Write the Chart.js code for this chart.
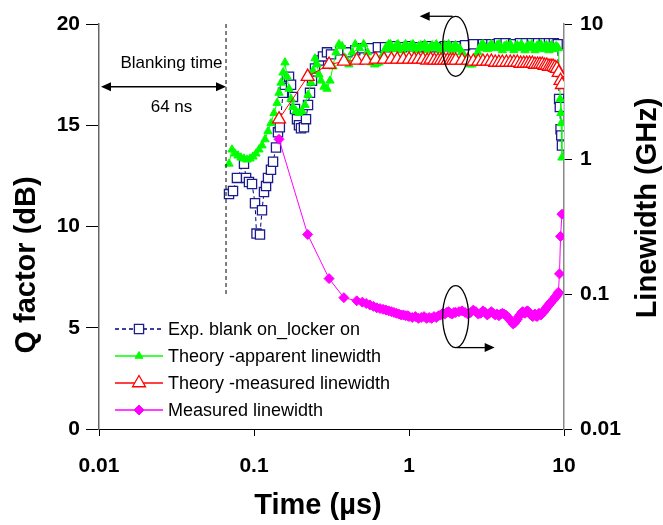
<!DOCTYPE html>
<html>
<head>
<meta charset="utf-8">
<script src="https://cdn.jsdelivr.net/npm/chart.js@4.4.0/dist/chart.umd.min.js"></script>
<style>
  html, body { margin: 0; padding: 0; background: #fff; }
</style>
</head>
<body>
<canvas id="qChart" width="663" height="525"></canvas>
<script>
// --- data ---
const timeTicks = [0.01, 0.1, 1, 10];
const qTicks = [0, 5, 10, 15, 20];
const lwTicks = [0.01, 0.1, 1, 10];

// Exp. blank on_locker on (Q factor, dB)
const expTime = [0.0690, 0.0732, 0.0776, 0.0862, 0.0889, 0.0928, 0.0971, 0.1015, 0.1038, 0.1093,
  0.1126, 0.1160, 0.1196, 0.1231, 0.1287, 0.1327, 0.1387, 0.1428, 0.1468, 0.1539,
  0.1585, 0.1633, 0.1682, 0.1733, 0.1785, 0.1839, 0.1894, 0.1951, 0.2010, 0.2100,
  0.2165, 0.2231, 0.2298, 0.2367, 0.2475, 0.2626, 0.2787, 0.2958, 0.3140,
  0.36, 0.40, 0.45, 0.50, 0.56, 0.63, 0.70, 0.80, 0.90, 1.0,
  1.15, 1.3, 1.5, 1.7, 2.0, 2.3, 2.6, 3.0, 3.4, 3.8,
  4.2, 4.7, 5.2, 5.7, 6.2, 6.8, 7.4, 8.0, 8.6, 9.1,
  9.3, 9.4, 9.5, 9.6, 9.7];
const expQ = [11.6, 11.75, 12.4, 13.1, 12.4, 12.2, 12.1, 11.15, 9.65, 9.6,
  10.8, 11.7, 12.0, 12.4, 12.8, 13.2, 13.9, 14.65, 14.9, 16.6,
  17.0, 17.3, 17.4, 17.0, 16.4, 15.8, 15.3, 15.0, 14.85, 14.9,
  15.3, 16.0, 16.6, 17.2, 17.8, 18.2, 18.4, 18.6, 18.5,
  18.7, 18.6, 18.7, 18.8, 18.8, 18.85, 18.85, 18.9, 18.85, 18.9,
  18.85, 18.9, 18.85, 18.9, 18.9, 18.95, 19.0, 19.0, 19.0, 19.05,
  19.05, 19.0, 19.05, 19.05, 19.05, 19.05, 19.05, 19.05, 19.05, 19.0,
  16.3, 15.9, 14.8, 14.5, 14.0];

// Theory - apparent linewidth (Q factor, dB)
const appTime = [0.0690, 0.0721, 0.0754, 0.0788, 0.0824, 0.0862, 0.0901, 0.0942, 0.0985, 0.1030,
  0.1077, 0.1126, 0.1178, 0.1231, 0.1287, 0.1346, 0.1408, 0.1450, 0.1494, 0.1539,
  0.1585, 0.1633, 0.1682, 0.1733, 0.1785, 0.1866, 0.1951, 0.2040, 0.2133, 0.2231,
  0.2332, 0.2403, 0.2475, 0.2550, 0.2626, 0.2706, 0.2829, 0.2958, 0.3093, 0.3234,
  0.3381, 0.3535,
  0.37, 0.39, 0.41, 0.43, 0.45, 0.48, 0.51, 0.54, 0.57, 0.6,
  0.62, 0.64, 0.66, 0.68, 0.70, 0.72, 0.74, 0.76, 0.78, 0.8,
  0.83, 0.85, 0.88, 0.9, 0.93, 0.95, 0.98, 1.0, 1.03, 1.06,
  1.09, 1.12, 1.15, 1.19, 1.22, 1.26, 1.3, 1.33, 1.37, 1.41,
  1.45, 1.5, 1.55, 1.6, 1.65, 1.7, 1.75, 1.8, 1.85, 1.9,
  1.95, 2.0, 2.06, 2.12, 2.18, 2.25, 2.32, 2.4, 2.48, 2.55,
  2.62, 2.7, 2.78, 2.85, 2.92, 3.0, 3.1, 3.2, 3.3, 3.4,
  3.5, 3.6, 3.7, 3.8, 3.9, 4.0, 4.12, 4.25, 4.38, 4.5,
  4.62, 4.75, 4.88, 5.0, 5.15, 5.3, 5.45, 5.6, 5.75, 5.9,
  6.05, 6.2, 6.35, 6.5, 6.65, 6.8, 6.95, 7.1, 7.25, 7.4,
  7.55, 7.7, 7.85, 8.0, 8.15, 8.3, 8.45, 8.6, 8.75, 8.9,
  9.05, 9.2, 9.35, 9.45, 9.55, 9.6, 9.7];
const appQ = [13.1, 13.8, 13.6, 13.5, 13.4, 13.35, 13.3, 13.35, 13.45, 13.6,
  13.8, 14.0, 14.3, 14.7, 15.1, 15.6, 16.1, 16.6, 17.1, 17.6,
  18.1, 17.4, 16.8, 16.3, 15.9, 15.7, 15.6, 15.7, 16.0, 16.5,
  17.1, 17.7, 18.3, 18.0, 17.5, 17.2, 16.9, 16.8, 17.2, 17.9,
  18.6, 19.0,
  18.9, 18.3, 18.0, 18.6, 19.0, 18.8, 19.0, 18.6, 18.1, 18.0,
  18.05, 18.1, 18.3, 18.5, 18.75, 18.9, 19.0, 19.0, 18.8, 18.75,
  18.95, 19.0, 18.8, 18.7, 18.9, 19.0, 18.85, 18.8, 18.95, 19.0,
  18.8, 18.7, 18.9, 18.95, 18.8, 19.0, 18.9, 18.7, 18.85, 18.95,
  18.8, 19.0, 18.85, 18.7, 18.9, 18.95, 18.8, 19.0, 18.85, 18.7,
  18.9, 18.95, 18.8, 18.8, 18.6, 18.5, 18.3, 18.1, 18.0, 18.0,
  18.2, 18.4, 18.6, 18.8, 18.95, 19.0, 18.85, 18.75, 18.9, 19.0,
  18.85, 18.8, 18.95, 19.0, 18.85, 18.7, 18.9, 18.95, 18.8, 19.0,
  18.85, 18.7, 18.9, 18.95, 18.8, 19.0, 18.85, 18.7, 18.9, 18.95,
  18.8, 19.0, 18.85, 18.7, 18.9, 18.95, 18.8, 19.0, 18.85, 18.75,
  18.9, 18.95, 18.8, 18.7, 18.9, 18.95, 18.8, 18.75, 18.85, 18.9,
  18.85, 18.8, 17.5, 16.3, 15.6, 15.1, 13.4];

// Theory - measured linewidth (Q factor, dB)
const measTime = [0.145, 0.222, 0.305, 0.38, 0.46, 0.53, 0.61, 0.69, 0.77, 0.84,
  0.92, 1.0, 1.08, 1.15, 1.23, 1.31, 1.38, 1.46, 1.54, 1.61,
  1.69, 1.77, 1.85, 1.92, 2.0, 2.2, 2.4, 2.6, 2.8, 3.0,
  3.2, 3.4, 3.6, 3.8, 4.0, 4.25, 4.5, 4.75, 5.0, 5.25,
  5.5, 5.75, 6.0, 6.25, 6.5, 6.75, 7.0, 7.25, 7.5, 7.75,
  8.0, 8.25, 8.5, 8.75, 9.0, 9.25, 9.5, 9.7];
const measQ = [15.3, 17.4, 18.0, 18.15, 18.2, 18.2, 18.25, 18.25, 18.25, 18.25,
  18.25, 18.25, 18.25, 18.25, 18.25, 18.2, 18.25, 18.2, 18.2, 18.2,
  18.2, 18.2, 18.2, 18.2, 18.2, 18.2, 18.2, 18.15, 18.15, 18.15,
  18.15, 18.15, 18.1, 18.1, 18.1, 18.1, 18.1, 18.1, 18.1, 18.05,
  18.05, 18.05, 18.05, 18.05, 18.0, 18.0, 18.0, 18.0, 17.95, 17.95,
  17.9, 17.9, 17.9, 17.85, 17.8, 17.6, 17.2, 17.0];

// Measured linewidth (GHz, right axis)
const lwTime = [0.145, 0.222, 0.305, 0.38, 0.46,
  0.50, 0.53, 0.56, 0.59, 0.62, 0.65, 0.68, 0.71, 0.74, 0.77,
  0.80, 0.83, 0.86, 0.89, 0.92, 0.95, 0.98,
  1.0, 1.05, 1.1, 1.15, 1.2, 1.25, 1.3, 1.35, 1.4, 1.45,
  1.5, 1.55, 1.6, 1.65, 1.7, 1.75, 1.8, 1.85, 1.9, 1.95,
  2.0, 2.1, 2.2, 2.3, 2.4, 2.5, 2.6, 2.7, 2.8, 2.9,
  3.0, 3.1, 3.2, 3.3, 3.4, 3.5, 3.6, 3.7, 3.8, 3.9,
  4.0, 4.1, 4.2, 4.3, 4.4, 4.5, 4.6, 4.7, 4.8, 4.9,
  5.0, 5.1, 5.2, 5.3, 5.4, 5.5, 5.6, 5.7, 5.8, 5.9,
  6.0, 6.1, 6.2, 6.3, 6.4, 6.5, 6.6, 6.7, 6.8, 6.9,
  7.0, 7.1, 7.2, 7.3, 7.4, 7.5, 7.6, 7.7, 7.8, 7.9,
  8.0, 8.1, 8.2, 8.3, 8.4, 8.5, 8.6, 8.7, 8.8, 8.9,
  9.0, 9.1, 9.2, 9.35, 9.5, 9.7];
const lwGHz = [1.40, 0.276, 0.130, 0.094, 0.089,
  0.087, 0.085, 0.083, 0.081, 0.079, 0.078, 0.077, 0.076, 0.075, 0.074,
  0.073, 0.072, 0.071, 0.070, 0.070, 0.069, 0.069,
  0.068, 0.067, 0.068, 0.066, 0.067, 0.068, 0.066, 0.067, 0.066, 0.068,
  0.067, 0.069, 0.070, 0.072, 0.071, 0.073, 0.074, 0.072, 0.071, 0.073,
  0.073, 0.074, 0.075, 0.073, 0.071, 0.073, 0.076, 0.074, 0.071, 0.072,
  0.075, 0.073, 0.070, 0.072, 0.074, 0.072, 0.070, 0.071, 0.069, 0.071,
  0.072, 0.071, 0.070, 0.068, 0.066, 0.064, 0.062, 0.060, 0.061, 0.063,
  0.065, 0.068, 0.070, 0.072, 0.074, 0.073, 0.072, 0.074, 0.075, 0.074,
  0.072, 0.070, 0.069, 0.068, 0.070, 0.071, 0.069, 0.068, 0.070, 0.072,
  0.071, 0.070, 0.072, 0.073, 0.074, 0.076, 0.077, 0.079, 0.080, 0.082,
  0.083, 0.085, 0.086, 0.088, 0.089, 0.090, 0.092, 0.093, 0.095, 0.096,
  0.098, 0.100, 0.103, 0.141, 0.267, 0.39];

const seriesNames = ['Exp. blank on_locker on', 'Theory -apparent linewidth',
  'Theory -measured linewidth', 'Measured linewidth'];

// annotation anchors (data units)
const blankingStart = 0.0103;
const blankingEnd = 0.066;
const blankingLineLow = 6.6;
const blankingArrowQ = 16.9;
const ellipseTime = 2.0;
const ellipseQ = 18.9;
const ellipseGHz = 0.068;

const FONT = "'Liberation Sans', Arial, sans-serif";
const tickFont = { family: FONT, size: 21, weight: 'bold' };

function pts(xs, ys) {
  return xs.map((t, i) => ({ x: t, y: ys[i] }));
}

function arrowHead(ctx, x, y, dir) {
  ctx.beginPath();
  ctx.moveTo(x, y);
  ctx.lineTo(x - dir * 10, y - 4.5);
  ctx.lineTo(x - dir * 10, y + 4.5);
  ctx.closePath();
  ctx.fill();
}

const overlay = {
  id: 'overlay',
  afterDatasetsDraw(chart) {
    const { ctx, scales } = chart;
    const x = scales.x, y = scales.y, y2 = scales.y2;
    ctx.save();
    ctx.strokeStyle = '#000';
    ctx.fillStyle = '#000';

    // blanking time marker
    const bx = x.getPixelForValue(blankingEnd);
    ctx.lineWidth = 1;
    ctx.setLineDash([4, 3]);
    ctx.beginPath();
    ctx.moveTo(bx, y.getPixelForValue(20));
    ctx.lineTo(bx, y.getPixelForValue(blankingLineLow));
    ctx.stroke();
    ctx.setLineDash([]);
    const ax0 = x.getPixelForValue(blankingStart);
    const ay = y.getPixelForValue(blankingArrowQ);
    ctx.lineWidth = 1.5;
    ctx.beginPath();
    ctx.moveTo(ax0 + 4, ay);
    ctx.lineTo(bx - 4, ay);
    ctx.stroke();
    arrowHead(ctx, ax0, ay, -1);
    arrowHead(ctx, bx, ay, 1);
    ctx.font = '17px ' + FONT;
    ctx.textAlign = 'center';
    ctx.textBaseline = 'middle';
    const tx = (ax0 + bx) / 2 + 8;
    ctx.fillText('Blanking time', tx, ay - 23);
    ctx.fillText('64 ns', tx, ay + 21);

    // ellipse for left axis series
    const ex = x.getPixelForValue(ellipseTime);
    const ey1 = y.getPixelForValue(ellipseQ);
    ctx.lineWidth = 1.3;
    ctx.beginPath();
    ctx.ellipse(ex, ey1, 13, 30, 0, 0, Math.PI * 2);
    ctx.stroke();
    ctx.beginPath();
    ctx.moveTo(ex - 3, ey1 - 30);
    ctx.lineTo(ex - 30, ey1 - 30);
    ctx.stroke();
    arrowHead(ctx, ex - 36, ey1 - 30, -1);

    // ellipse for right axis series
    const ey2 = y2.getPixelForValue(ellipseGHz);
    ctx.beginPath();
    ctx.ellipse(ex, ey2, 13, 31, 0, 0, Math.PI * 2);
    ctx.stroke();
    ctx.beginPath();
    ctx.moveTo(ex + 1, ey2 + 31);
    ctx.lineTo(ex + 32, ey2 + 31);
    ctx.stroke();
    arrowHead(ctx, ex + 39, ey2 + 31, 1);
    ctx.restore();
  },
  afterDraw(chart) {
    const { ctx } = chart;
    ctx.save();
    // legend
    const metas = chart.data.datasets;
    ctx.font = '18px ' + FONT;
    ctx.textAlign = 'left';
    ctx.textBaseline = 'middle';
    metas.forEach((ds, i) => {
      const ly = 329 + i * 27;
      ctx.strokeStyle = ds.borderColor;
      ctx.lineWidth = 1.5;
      ctx.setLineDash(ds.borderDash || []);
      ctx.beginPath();
      ctx.moveTo(115, ly);
      ctx.lineTo(163, ly);
      ctx.stroke();
      ctx.setLineDash([]);
      ctx.fillStyle = ds.pointBackgroundColor;
      ctx.strokeStyle = ds.pointBorderColor;
      ctx.lineWidth = ds.pointBorderWidth;
      Chart.helpers.drawPoint(ctx, {
        pointStyle: ds.pointStyle, radius: ds.legendRadius, rotation: 0, borderWidth: ds.pointBorderWidth
      }, 139, ly);
      ctx.fillStyle = '#000';
      ctx.fillText(seriesNames[i], 168, ly + 1);
    });

    // axis titles
    ctx.fillStyle = '#000';
    ctx.textAlign = 'center';
    ctx.font = 'bold 29px ' + FONT;
    ctx.fillText('Time (\u00b5s)', 318, 506);
    ctx.save();
    ctx.translate(27, 265);
    ctx.rotate(-Math.PI / 2);
    ctx.fillText('Q factor (dB)', 0, 0);
    ctx.restore();
    ctx.save();
    ctx.translate(648, 208);
    ctx.rotate(-Math.PI / 2);
    ctx.fillText('Linewidth (GHz)', 0, 0);
    ctx.restore();
    ctx.restore();
  }
};

new Chart(document.getElementById('qChart'), {
  type: 'line',
  data: {
    datasets: [
      {
        label: seriesNames[0],
        data: pts(expTime, expQ),
        yAxisID: 'y',
        borderColor: '#000080',
        borderWidth: 1,
        borderDash: [4, 3],
        pointStyle: 'rect',
        pointRadius: 6.5,
        legendRadius: 6.5,
        pointBackgroundColor: '#ffffff',
        pointBorderColor: '#1c1c8a',
        pointBorderWidth: 1.3,
        order: 4
      },
      {
        label: seriesNames[1],
        data: pts(appTime, appQ),
        yAxisID: 'y',
        borderColor: '#00ff00',
        borderWidth: 1,
        pointStyle: 'triangle',
        pointRadius: 4.8,
        legendRadius: 4.5,
        pointBackgroundColor: '#00ff00',
        pointBorderColor: '#00ff00',
        pointBorderWidth: 1,
        order: 3
      },
      {
        label: seriesNames[2],
        data: pts(measTime, measQ),
        yAxisID: 'y',
        borderColor: '#ff0000',
        borderWidth: 1,
        pointStyle: 'triangle',
        pointRadius: 7.5,
        legendRadius: 7.5,
        pointBackgroundColor: '#ffffff',
        pointBorderColor: '#ff0000',
        pointBorderWidth: 1.3,
        order: 2
      },
      {
        label: seriesNames[3],
        data: pts(lwTime, lwGHz),
        yAxisID: 'y2',
        borderColor: '#ff00ff',
        borderWidth: 1,
        pointStyle: 'rectRot',
        pointRadius: 5,
        legendRadius: 5,
        pointBackgroundColor: '#ff00ff',
        pointBorderColor: '#ff00ff',
        pointBorderWidth: 1,
        order: 1
      }
    ]
  },
  options: {
    responsive: false,
    animation: false,
    events: [],
    layout: { padding: { top: 24, left: 0, right: 0, bottom: 0 } },
    plugins: { legend: { display: false }, tooltip: { enabled: false } },
    scales: {
      x: {
        type: 'logarithmic',
        position: 'bottom',
        min: 0.01,
        max: 10,
        afterBuildTicks: s => { s.ticks = timeTicks.map(v => ({ value: v })); },
        afterFit: s => { s.height = 96; },
        ticks: { callback: v => String(v), font: tickFont, color: '#000', padding: 18, maxRotation: 0, autoSkip: false },
        grid: { drawOnChartArea: false, tickLength: 7, color: '#000' },
        border: { color: '#000', width: 1 }
      },
      y: {
        type: 'linear',
        position: 'left',
        min: 0,
        max: 20,
        afterBuildTicks: s => { s.ticks = qTicks.map(v => ({ value: v })); },
        afterFit: s => { s.width = 99; },
        ticks: { font: tickFont, color: '#000', padding: 6 },
        grid: { drawOnChartArea: false, tickLength: 13, color: '#000' },
        border: { color: '#666', width: 1.5 }
      },
      y2: {
        type: 'logarithmic',
        position: 'right',
        min: 0.01,
        max: 10,
        afterBuildTicks: s => { s.ticks = lwTicks.map(v => ({ value: v })); },
        afterFit: s => { s.width = 99; },
        ticks: { callback: v => String(v), font: tickFont, color: '#000', padding: 8 },
        grid: { drawOnChartArea: false, tickLength: 8, color: '#000' },
        border: { color: '#888', width: 1.5 }
      }
    }
  },
  plugins: [overlay]
});
</script>
</body>
</html>
